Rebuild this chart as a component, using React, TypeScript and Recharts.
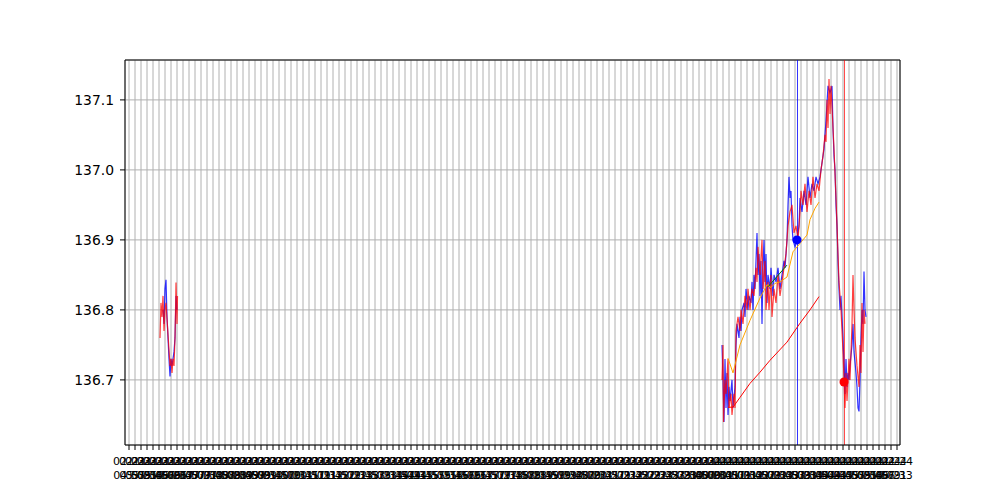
import { ComposedChart, Line, Scatter, XAxis, YAxis, CartesianGrid, ReferenceLine } from 'recharts';

type Pt = [number, number];

// t = minutes since the first tick, v = price
const blueLeft: Pt[] = [
  [68, 136.8], [70, 136.78], [72, 136.83], [74, 136.843], [76, 136.79], [78, 136.76], [80, 136.73],
  [82, 136.705], [84, 136.73], [86, 136.72], [90, 136.74], [92, 136.76], [94, 136.82], [96, 136.8],
];

const redLeft: Pt[] = [
  [62, 136.76], [64, 136.81], [66, 136.79], [68, 136.82], [70, 136.77], [72, 136.8], [74, 136.81],
  [82, 136.72], [84, 136.73], [86, 136.71], [88, 136.73], [90, 136.72], [92, 136.76], [94, 136.839],
  [96, 136.78], [97, 136.82],
];

const blueRight: Pt[] = [
  [1186, 136.75], [1188, 136.7], [1190, 136.64], [1192, 136.73], [1194, 136.66], [1196, 136.71],
  [1198, 136.65], [1200, 136.69], [1202, 136.67], [1206, 136.7], [1208, 136.66], [1212, 136.69],
  [1214, 136.75], [1216, 136.78], [1220, 136.76], [1222, 136.79], [1224, 136.77], [1226, 136.8],
  [1230, 136.81], [1232, 136.79], [1234, 136.83], [1238, 136.8], [1240, 136.82], [1244, 136.81],
  [1246, 136.84], [1248, 136.8], [1250, 136.85], [1252, 136.83], [1254, 136.87], [1256, 136.91],
  [1258, 136.85], [1260, 136.88], [1262, 136.82], [1264, 136.87], [1266, 136.78], [1268, 136.86],
  [1270, 136.9], [1272, 136.84], [1274, 136.88], [1276, 136.81], [1278, 136.85], [1282, 136.83],
  [1284, 136.86], [1288, 136.82], [1290, 136.85], [1294, 136.84], [1298, 136.86], [1302, 136.83],
  [1306, 136.85], [1310, 136.87], [1312, 136.86], [1316, 136.9], [1318, 136.95], [1320, 136.99],
  [1322, 136.96], [1324, 136.97], [1326, 136.92], [1328, 136.9], [1332, 136.89], [1336, 136.9],
  [1340, 136.92], [1342, 136.96], [1346, 136.94], [1350, 136.97], [1354, 136.95], [1358, 136.99],
  [1362, 136.96], [1366, 136.98], [1370, 136.97], [1374, 136.99], [1378, 136.98], [1382, 136.99],
  [1386, 137.01], [1390, 137.03], [1394, 137.07], [1398, 137.12], [1402, 137.11], [1406, 137.12],
  [1408, 137.06], [1410, 137.02], [1412, 137.0], [1414, 136.95], [1416, 136.92], [1418, 136.87],
  [1420, 136.83], [1422, 136.8], [1424, 136.82], [1426, 136.79], [1428, 136.76], [1430, 136.72],
  [1432, 136.68], [1434, 136.73], [1436, 136.69], [1438, 136.71], [1440, 136.7], [1442, 136.72],
  [1446, 136.75], [1448, 136.78], [1450, 136.74], [1454, 136.71], [1456, 136.69], [1458, 136.66],
  [1460, 136.655], [1462, 136.7], [1464, 136.76], [1466, 136.8], [1468, 136.78], [1470, 136.855],
  [1472, 136.8], [1474, 136.79],
];

const redRight: Pt[] = [
  [1186, 136.7], [1188, 136.75], [1189, 136.64], [1192, 136.7], [1194, 136.68], [1198, 136.73],
  [1200, 136.66], [1204, 136.68], [1206, 136.65], [1210, 136.68], [1212, 136.66], [1214, 136.77],
  [1218, 136.79], [1222, 136.77], [1224, 136.8], [1228, 136.78], [1232, 136.82], [1236, 136.8],
  [1238, 136.83], [1242, 136.8], [1246, 136.83], [1250, 136.82], [1254, 136.86], [1256, 136.84],
  [1258, 136.89], [1262, 136.85], [1266, 136.9], [1268, 136.83], [1272, 136.87], [1274, 136.8],
  [1278, 136.84], [1280, 136.8], [1284, 136.85], [1286, 136.79], [1290, 136.83], [1294, 136.81],
  [1298, 136.85], [1302, 136.82], [1306, 136.84], [1310, 136.86], [1314, 136.88], [1318, 136.92],
  [1322, 136.94], [1326, 136.95], [1330, 136.91], [1334, 136.92], [1338, 136.9], [1342, 136.94],
  [1344, 136.97], [1348, 136.95], [1352, 136.98], [1356, 136.94], [1360, 136.97], [1364, 136.95],
  [1368, 136.99], [1372, 136.96], [1376, 136.98], [1380, 136.97], [1384, 137.0], [1388, 137.02],
  [1392, 137.05], [1394, 137.04], [1396, 137.1], [1398, 137.06], [1400, 137.13], [1402, 137.08],
  [1404, 137.12], [1406, 137.09], [1410, 137.03], [1414, 136.96], [1418, 136.88], [1420, 136.84],
  [1424, 136.8], [1428, 136.74], [1430, 136.7], [1432, 136.66], [1434, 136.71], [1436, 136.67],
  [1440, 136.73], [1442, 136.7], [1446, 136.78], [1448, 136.85], [1450, 136.8], [1452, 136.76],
  [1456, 136.72], [1460, 136.69], [1462, 136.75], [1464, 136.71], [1466, 136.81], [1468, 136.74],
  [1470, 136.8], [1472, 136.78],
];

const orangeLine: Pt[] = [
  [1198, 136.731], [1208, 136.71], [1222, 136.75], [1242, 136.785], [1262, 136.817], [1276, 136.836],
  [1284, 136.832], [1292, 136.838], [1302, 136.84], [1316, 136.847], [1328, 136.883], [1342, 136.895],
  [1356, 136.907], [1362, 136.929], [1372, 136.945], [1380, 136.954],
];

const redTrend: Pt[] = [
  [1198, 136.661], [1208, 136.661], [1222, 136.675], [1242, 136.695], [1262, 136.711], [1282, 136.728],
  [1316, 136.754], [1342, 136.781], [1362, 136.8], [1380, 136.819],
];

const greenLine: Pt[] = [[1278, 136.833], [1316, 136.864]];

const buyPoint: Pt[] = [[1336, 136.9]];
const sellPoint: Pt[] = [[1430, 136.697]];

const buyTime = 1337;
const sellTime = 1431;

const xDomain: [number, number] = [-8, 1542];
const yDomain: [number, number] = [136.607, 137.157];
const yTicks = [136.7, 136.8, 136.9, 137.0, 137.1];

// one tick every 12 minutes
const startTime = Date.UTC(2024, 1, 23, 4, 57);
const xTicks = Array.from({ length: 129 }, (_, i) => i * 12);
const pad = (n: number) => String(n).padStart(2, '0');
const xTickDates = xTicks.map((t) => {
  const d = new Date(startTime + t * 60000);
  return `${pad(d.getUTCMonth() + 1)}-${pad(d.getUTCDate())}`;
});
const xTickTimes = xTicks.map((t) => {
  const d = new Date(startTime + t * 60000);
  return `${pad(d.getUTCHours())}:${pad(d.getUTCMinutes())}`;
});

const toRows = (pts: Pt[]) => pts.map(([t, v]) => ({ t, v }));

const FONT = 'DejaVu Sans';

function DateTick({ x, y, payload }: { x?: number; y?: number; payload?: { value: number } }) {
  const i = xTicks.indexOf(payload?.value ?? -1);
  if (i < 0) return null;
  return (
    <text x={x} y={y} textAnchor="middle" fill="#000" fontSize={11} fontFamily={FONT}>
      <tspan x={x} dy={13}>{xTickDates[i]}</tspan>
      <tspan x={x} dy={14}>{xTickTimes[i]}</tspan>
    </text>
  );
}

export default function App() {
  const lineProps = { dataKey: 'v', dot: false, activeDot: false, isAnimationActive: false } as const;
  return (
    <div style={{ position: 'absolute', left: 0, top: 0, width: 1000, height: 500, background: '#fff' }}>
      <ComposedChart width={1000} height={500} margin={{ top: 60, right: 100, bottom: 0, left: 0 }}>
        <CartesianGrid stroke="#b0b0b0" strokeWidth={1} />
        <XAxis
          type="number"
          dataKey="t"
          domain={xDomain}
          allowDataOverflow
          ticks={xTicks}
          interval={0}
          height={55}
          tickSize={5}
          tick={<DateTick />}
          axisLine={{ stroke: '#000' }}
          tickLine={{ stroke: '#000' }}
        />
        <YAxis
          type="number"
          domain={yDomain}
          allowDataOverflow
          ticks={yTicks}
          width={125}
          tickSize={5}
          tickMargin={6}
          tickFormatter={(v: number) => v.toFixed(1)}
          tick={{ fill: '#000', fontSize: 13.9, fontFamily: FONT }}
          axisLine={{ stroke: '#000' }}
          tickLine={{ stroke: '#000' }}
        />
        <ReferenceLine y={yDomain[1]} stroke="#000" />
        <ReferenceLine x={xDomain[1]} stroke="#000" />
        <ReferenceLine x={buyTime} stroke="#0000ff" strokeOpacity={0.8} />
        <ReferenceLine x={sellTime} stroke="#ff0000" strokeOpacity={0.7} />

        <Line {...lineProps} data={toRows(blueLeft)} stroke="#0000ff" strokeOpacity={0.8} strokeWidth={1.2} />
        <Line {...lineProps} data={toRows(blueRight)} stroke="#0000ff" strokeOpacity={0.8} strokeWidth={1.2} />
        <Line {...lineProps} data={toRows(redLeft)} stroke="#ff0000" strokeOpacity={0.75} strokeWidth={1.2} />
        <Line {...lineProps} data={toRows(redRight)} stroke="#ff0000" strokeOpacity={0.75} strokeWidth={1.2} />
        <Line {...lineProps} data={toRows(orangeLine)} stroke="#ffa500" strokeWidth={1} />
        <Line {...lineProps} data={toRows(redTrend)} stroke="#ff0000" strokeWidth={1} />
        <Line {...lineProps} data={toRows(greenLine)} stroke="#008000" strokeWidth={1} />

        <Scatter data={toRows(buyPoint)} dataKey="v" fill="#0000ff" isAnimationActive={false} />
        <Scatter data={toRows(sellPoint)} dataKey="v" fill="#ff0000" isAnimationActive={false} />
      </ComposedChart>
    </div>
  );
}
